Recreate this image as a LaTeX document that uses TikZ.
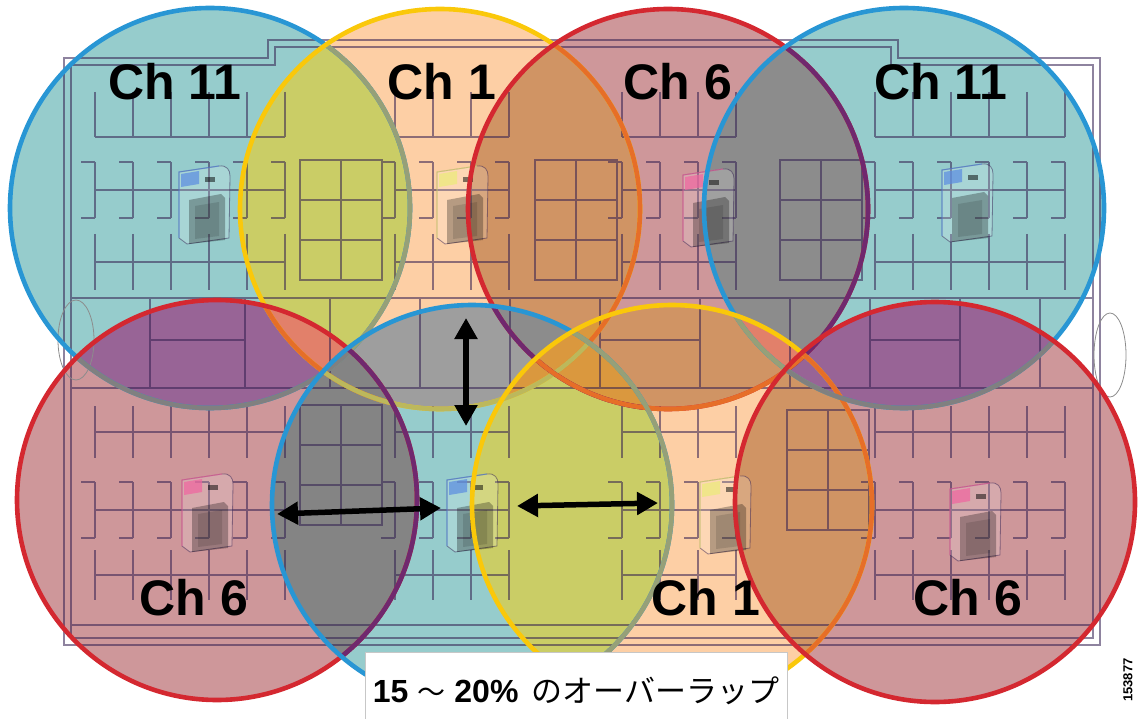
\documentclass[tikz,border=0pt]{standalone}
\usepackage{fontspec}
\setmainfont{Liberation Sans}
\newfontfamily\jpfont{Noto Sans CJK JP}
\usetikzlibrary{arrows.meta}
\definecolor{chblue}{RGB}{40,150,212}
\definecolor{chyellow}{RGB}{250,200,10}
\definecolor{chred}{RGB}{212,40,48}
\definecolor{fillblue}{RGB}{150,204,204}
\definecolor{fillyellow}{RGB}{253,207,165}
\definecolor{fillred}{RGB}{206,151,154}
\definecolor{mixolive}{RGB}{202,205,102}
\definecolor{mixbrown}{RGB}{208,148,100}
\definecolor{mixgray}{RGB}{140,140,140}
\definecolor{mixdark}{RGB}{132,132,132}
\definecolor{mixlightgray}{RGB}{158,158,158}
\definecolor{mixpurple}{RGB}{152,100,150}
\definecolor{mixsalmon}{RGB}{226,128,106}
\definecolor{mixamber}{RGB}{218,152,62}
\definecolor{edgeolive}{RGB}{150,160,120}
\definecolor{edgeyolive}{RGB}{188,184,92}
\definecolor{edgeorange}{RGB}{230,110,40}
\definecolor{edgepurple}{RGB}{112,40,110}
\definecolor{edgegray}{RGB}{128,128,128}
\definecolor{planline}{RGB}{50,30,80}
\definecolor{apblue}{RGB}{90,140,225}
\definecolor{apyellow}{RGB}{235,235,120}
\definecolor{appink}{RGB}{240,100,160}

% redraw the edge of disc #1 where disc #2 lies over it
\newcommand\tintring[3]{%
  \begin{scope}
    \clip (#2) circle[radius=200pt];
    \draw[ring, #3] (#1) circle[radius=200pt];
  \end{scope}}

\begin{document}
\begin{tikzpicture}[x=1pt, y=-1pt,
    ring/.style={line width=4.6pt},
    wall/.style={draw=planline, line width=1.7pt, opacity=.55},
    thinwall/.style={draw=black!45, line width=.8pt},
    chlabel/.style={font=\fontsize{50}{52}\selectfont\bfseries, anchor=base, inner sep=0pt},
    span/.style={line width=5.5pt, {Triangle[length=21pt,width=22pt]}-{Triangle[length=21pt,width=22pt]}},
    capbox/.style={draw=black!22, fill=white, minimum width=422pt, minimum height=78pt, inner sep=0pt},
    pics/ap/.style={code={
      \fill[white, opacity=.18] (-24,-30) -- (16,-36) .. controls (24,-37) and (27,-32) .. (27,-26) -- (26,36) -- (-16,42) -- (-24,36) -- cycle;
      \draw[planline, opacity=.5, line width=.8pt] (-24,-30) -- (16,-36) .. controls (24,-37) and (27,-32) .. (27,-26) -- (26,36) -- (-16,42) -- (-24,36) -- cycle;
      \fill[#1, opacity=.7] (-22,-28) -- (-4,-31) -- (-4,-18) -- (-22,-15) -- cycle;
      \fill[black, opacity=.5] (2,-25) rectangle (12,-20);
      \fill[black, opacity=.28] (-14,-2) -- (18,-8) -- (22,-4) -- (22,38) -- (-14,42) -- cycle;
      \fill[black, opacity=.12] (-8,4) -- (16,0) -- (16,34) -- (-8,37) -- cycle;
      \draw[#1, opacity=.6, line width=1.2pt] (-24,36) -- (-24,-30) -- (16,-36);
    }}
]
\useasboundingbox (0,0) rectangle (1145,719);

% cell centres
\coordinate (b1) at (210,208);
\coordinate (y1) at (440,209);
\coordinate (r1) at (668,209);
\coordinate (b2) at (904,208);
\coordinate (r2) at (217,500);
\coordinate (b3) at (472,505);
\coordinate (y2) at (672,505);
\coordinate (r3) at (935,502);

% cells
\foreach \c/\col in {b1/fillblue, y1/fillyellow, r1/fillred, b2/fillblue,
    r2/fillred, b3/fillblue, y2/fillyellow, r3/fillred}
  \fill[\col] (\c) circle[radius=200pt];

% overlaps
\foreach \p/\q/\mix in {b1/y1/mixolive, y1/r1/mixbrown, r1/b2/mixgray, b1/r2/mixpurple,
    y1/r2/mixsalmon, y1/b3/mixlightgray, r1/b3/mixgray, r2/b3/mixdark, r1/y2/mixbrown,
    b3/y2/mixolive, y1/y2/mixamber, b2/y2/mixsalmon, y2/r3/mixbrown, b2/r3/mixpurple}{
  \begin{scope}
    \clip (\p) circle[radius=200pt];
    \fill[\mix] (\q) circle[radius=200pt];
  \end{scope}
}
\begin{scope}
  \clip (r1) circle[radius=200pt];
  \clip (y2) circle[radius=200pt];
  \fill[mixamber] (b3) circle[radius=200pt];
\end{scope}

% floor plan
\draw[wall]
  (64,645) -- (64,58) -- (268,58) -- (268,40) -- (898,40) -- (898,58) -- (1100,58) -- (1100,645) -- cycle
  (71,638) -- (71,65) -- (275,65) -- (275,47) -- (891,47) -- (891,65) -- (1093,65) -- (1093,638) -- cycle
  (71,298) -- (1093,298)  (71,388) -- (1093,388)  (71,625) -- (1093,625)
  foreach \x in {150,245,330,420,510,600,700,790,870,960,1040}{ (\x,298) -- (\x,388) }
  (150,340) -- (245,340)  (600,340) -- (700,340)  (870,340) -- (960,340)
  foreach \x/\n in {95/5, 395/3, 622/3, 875/5}{
    (\x,137) -- ({\x+38*\n},137)
    (\x,190) -- ({\x+38*\n},190)
    (\x,262) -- ({\x+38*\n},262)
    (\x,432) -- ({\x+38*\n},432)
    (\x,510) -- ({\x+38*\n},510)
    (\x,575) -- ({\x+38*\n},575)
    foreach \k in {0,...,\n}{
      ({\x+38*\k},92) -- ({\x+38*\k},137)
      ({\x+38*\k},162) -- ({\x+38*\k},218)
      ({\x+38*\k},162) -- ++(-14,0)
      ({\x+38*\k},218) -- ++(-14,0)
      ({\x+38*\k},234) -- ({\x+38*\k},290)
      ({\x+38*\k},406) -- ({\x+38*\k},458)
      ({\x+38*\k},482) -- ({\x+38*\k},538)
      ({\x+38*\k},482) -- ++(-14,0)
      ({\x+38*\k},538) -- ++(-14,0)
      ({\x+38*\k},550) -- ({\x+38*\k},600)
    }
  }
  foreach \gx/\gy in {300/160, 535/160, 780/160, 300/405, 787/410}{
    (\gx,\gy) rectangle ++(82,120)
    ({\gx+41},\gy) -- ++(0,120)
    (\gx,{\gy+40}) -- ++(82,0)
    (\gx,{\gy+80}) -- ++(82,0)
  };
\draw[thinwall] (76,340) ellipse[x radius=18pt, y radius=40pt];
\draw[thinwall] (1110,355) ellipse[x radius=16pt, y radius=42pt];

% access points
\pic (apb1) at (203,202) {ap=apblue};
\pic (apy1) at (461,202) {ap=apyellow};
\pic (apr1) at (707,205) {ap=appink};
\pic (apb2) at (966,200) {ap=apblue};
\pic (apr2) at (206,510) {ap=appink};
\pic (apb3) at (471,510) {ap=apblue};
\pic (apy2) at (724,512) {ap=apyellow};
\pic (apr3) at (974,519) {ap=appink};

% cell edges, in stacking order
\draw[ring, chblue] (b1) circle[radius=200pt];
\tintring{b1}{y1}{edgeolive}
\draw[ring, chyellow] (y1) circle[radius=200pt];
\tintring{y1}{r1}{edgeorange}
\draw[ring, chred] (r1) circle[radius=200pt];
\tintring{r1}{b2}{edgepurple}
\draw[ring, chblue] (b2) circle[radius=200pt];
\tintring{b1}{r2}{edgegray}
\tintring{y1}{r2}{edgeorange}
\draw[ring, chred] (r2) circle[radius=200pt];
\tintring{y1}{b3}{edgeyolive}
\tintring{r1}{b3}{edgepurple}
\tintring{r2}{b3}{edgepurple}
\draw[ring, chblue] (b3) circle[radius=200pt];
\tintring{r1}{y2}{edgeorange}
\tintring{b3}{y2}{edgeolive}
\tintring{b2}{y2}{edgeolive}
\draw[ring, chyellow] (y2) circle[radius=200pt];
\tintring{y2}{r3}{edgeorange}
\tintring{b2}{r3}{edgegray}
\draw[ring, chred] (r3) circle[radius=200pt];

% channel labels
\node[chlabel] (lb1) at (175,100) {Ch 11};
\node[chlabel] (ly1) at (442,100) {Ch 1};
\node[chlabel] (lr1) at (678,100) {Ch 6};
\node[chlabel] (lb2) at (941,100) {Ch 11};
\node[chlabel] (lr2) at (194,615) {Ch 6};
\node[chlabel] (ly2) at (706,615) {Ch 1};
\node[chlabel] (lr3) at (968,615) {Ch 6};

% overlap spans
\coordinate (vtop) at (466,318);
\coordinate (vbot) at (466,426);
\coordinate (hl1) at (277,514);
\coordinate (hl2) at (441,508);
\coordinate (hr1) at (517,506);
\coordinate (hr2) at (658,503);
\draw[span] (vtop) -- (vbot);
\draw[span] (hl1) -- (hl2);
\draw[span] (hr1) -- (hr2);

% caption
\node[capbox] (note) at (576,691) {\fontsize{32}{34}\selectfont\bfseries 15\hspace{9pt}{\jpfont\mdseries\fontsize{28}{30}\selectfont ～}\hspace{9pt}20\%\hspace{13pt}{\jpfont\mdseries\fontsize{31}{33}\selectfont のオーバーラップ}};
\node[rotate=90, font=\fontsize{13}{14}\selectfont\bfseries] (figno) at (1128,680) {153877};
\end{tikzpicture}
\end{document}
